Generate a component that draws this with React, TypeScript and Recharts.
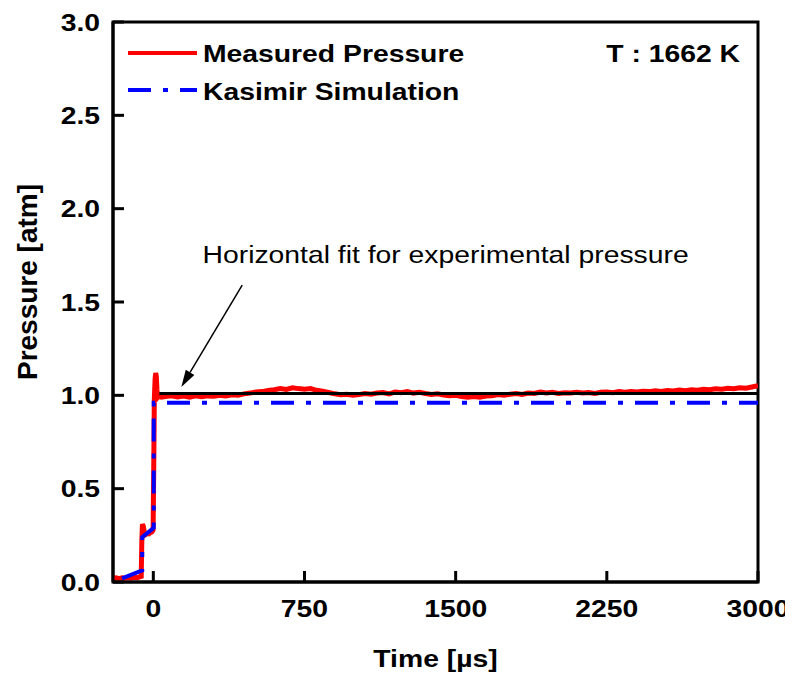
import React from 'react'
import { LineChart, Line, XAxis, YAxis, Legend, ReferenceArea, ReferenceLine, ReferenceDot } from 'recharts'

const FONT = "'Liberation Sans', Arial, sans-serif"
const SX = 1.18

// measured pressure trace (time in µs, pressure in atm)
const measuredTime = [
  -200, -185, -170, -155, -140, -125, -110, -95, -80, -68, -60, -57, -54, -50, -45, -38, -30, -22, -14, -6, -1,
  2, 5, 9, 12, 15, 18, 22, 26, 40,
  60, 90, 120, 150, 180, 210, 240, 270, 300, 330, 360, 390, 420, 450, 480, 510, 540, 570, 600,
  630, 660, 690, 720, 750, 780, 810, 840, 870, 900, 930, 960, 990, 1020, 1050, 1080, 1110, 1140,
  1170, 1200, 1230, 1260, 1290, 1320, 1350, 1380, 1410, 1440, 1470, 1500, 1530, 1560, 1590, 1620,
  1650, 1680, 1710, 1740, 1770, 1800, 1830, 1860, 1890, 1920, 1950, 1980, 2010, 2040, 2070, 2100,
  2130, 2160, 2190, 2220, 2250, 2280, 2310, 2340, 2370, 2400, 2430, 2460, 2490, 2520, 2550, 2580,
  2610, 2640, 2670, 2700, 2730, 2760, 2790, 2820, 2850, 2880, 2910, 2940, 2970, 3000,
]
const measuredPressure = [
  0.02, 0.022, 0.018, 0.023, 0.02, 0.024, 0.021, 0.025, 0.023, 0.027, 0.03, 0.22, 0.31, 0.3, 0.27, 0.255, 0.26, 0.258, 0.265, 0.27, 0.28,
  0.6, 0.98, 1.09, 1.12, 1.1, 1.03, 0.99, 0.995, 0.99,
  0.993, 0.997, 0.991, 0.996, 0.99, 0.998, 0.993, 0.997, 0.995, 1.0, 0.996, 1.003, 1.0, 1.008, 1.012, 1.018, 1.02, 1.026, 1.03,
  1.036, 1.032, 1.04, 1.036, 1.033, 1.036, 1.027, 1.022, 1.015, 1.008, 1.003, 1.006, 1.0, 1.004, 1.01, 1.006, 1.012, 1.015,
  1.008, 1.018, 1.014, 1.02, 1.012, 1.016, 1.01, 1.005, 1.008, 1.002, 0.998, 1.0, 0.994, 0.99, 0.994, 0.99,
  0.996, 0.998, 1.004, 1.0, 1.006, 1.01, 1.005, 1.012, 1.01, 1.018, 1.013, 1.016, 1.01, 1.014, 1.012, 1.017,
  1.013, 1.015, 1.01, 1.016, 1.018, 1.014, 1.02, 1.017, 1.021, 1.018, 1.022, 1.02, 1.025, 1.021, 1.026, 1.023,
  1.028, 1.025, 1.03, 1.027, 1.032, 1.03, 1.035, 1.033, 1.038, 1.035, 1.04, 1.038, 1.045, 1.052,
]

// Kasimir simulation
const simTime = [-155, -55, -55, 2, 2, 3000]
const simPressure = [0.02, 0.062, 0.24, 0.29, 0.96, 0.96]

// horizontal fit of the experimental plateau
const fitTime = [30, 3000]
const fitPressure = [1.01, 1.01]

const xTicks = [0, 750, 1500, 2250, 3000]
const yTicks = [0, 0.5, 1.0, 1.5, 2.0, 2.5, 3.0]

const noteText = 'Horizontal fit for experimental pressure'
const notePos = { x: 1450, y: 1.71 }
const arrowFrom = { x: 441, y: 1.59 }
const arrowTo = { x: 139, y: 1.045 }

const measured = measuredTime.map((t, i) => ({ t, p: measuredPressure[i] }))
const sim = simTime.map((t, i) => ({ t, p: simPressure[i] }))
const fit = fitTime.map((t, i) => ({ t, p: fitPressure[i] }))

const XTick = ({ x, y, payload }: any) => (
  <text transform={`translate(${x},${y}) scale(${SX},1)`} textAnchor="middle"
    style={{ fontFamily: FONT, fontWeight: 700, fontSize: 24, fill: '#000' }}>
    {payload.value}
  </text>
)

const YTick = ({ x, y, payload }: any) => (
  <text transform={`translate(${x},${y + 8.6}) scale(${SX},1)`} textAnchor="end"
    style={{ fontFamily: FONT, fontWeight: 700, fontSize: 24, fill: '#000' }}>
    {Number(payload.value).toFixed(1)}
  </text>
)

const XTitle = ({ viewBox }: any) => (
  <text transform={`translate(${viewBox.x + viewBox.width / 2},${viewBox.y + 85}) scale(${SX},1)`}
    textAnchor="middle" style={{ fontFamily: FONT, fontWeight: 700, fontSize: 24, fill: '#000' }}>
    Time [µs]
  </text>
)

const YTitle = ({ viewBox }: any) => (
  <text transform={`translate(29,${viewBox.y + viewBox.height / 2 - 20}) rotate(-90)`}
    textAnchor="middle" style={{ fontFamily: FONT, fontWeight: 700, fontSize: 28, fill: '#000' }}>
    Pressure [atm]
  </text>
)

const Arrow = (props: any) => {
  const { x1, y1, x2, y2 } = props
  const a = Math.atan2(y2 - y1, x2 - x1)
  const len = 17
  const w = 5
  const bx = x2 - len * Math.cos(a)
  const by = y2 - len * Math.sin(a)
  const pts = [
    `${x2},${y2}`,
    `${bx + w * Math.sin(a)},${by - w * Math.cos(a)}`,
    `${bx - w * Math.sin(a)},${by + w * Math.cos(a)}`,
  ].join(' ')
  return (
    <g>
      <line x1={x1} y1={y1} x2={bx} y2={by} stroke="#000" strokeWidth={1.5} />
      <polygon points={pts} fill="#000" />
    </g>
  )
}

const Note = ({ cx, cy }: any) => (
  <text transform={`translate(${cx},${cy}) scale(${SX},1)`} textAnchor="middle"
    style={{ fontFamily: FONT, fontSize: 24, fill: '#000' }}>
    {noteText}
  </text>
)

const LegendBox = () => {
  const txt = { fontFamily: FONT, fontWeight: 700, fontSize: 24, fill: '#000' }
  return (
    <svg width={760} height={110} style={{ display: 'block' }}>
      <line x1={120} y1={45} x2={189} y2={45} stroke="#ff0000" strokeWidth={4} />
      <text transform={`translate(195,54) scale(${SX},1)`} style={txt}>Measured Pressure</text>
      <line x1={120} y1={82} x2={189} y2={82} stroke="#0000ff" strokeWidth={4} strokeDasharray="23 12 5 12" />
      <text transform={`translate(195,92) scale(${SX},1)`} style={txt}>Kasimir Simulation</text>
      <text transform={`translate(732,54) scale(${SX},1)`} textAnchor="end" style={txt}>T : 1662 K</text>
    </svg>
  )
}

export default function App() {
  return (
    <div style={{ width: 785, height: 669, position: 'relative' }}>
      <LineChart width={785} height={669} margin={{ top: 14, right: 35, left: 0, bottom: 0 }}
        style={{ overflow: 'visible' }}>
        <XAxis type="number" dataKey="t" domain={[-200, 3000]} ticks={xTicks} allowDataOverflow
          height={95} tickSize={-11} tickMargin={46} tick={XTick}
          axisLine={{ stroke: '#000', strokeWidth: 3 }} tickLine={{ stroke: '#000', strokeWidth: 3 }}
          label={XTitle} />
        <YAxis type="number" dataKey="p" domain={[0, 3]} ticks={yTicks} allowDataOverflow
          width={105} tickSize={-11} tickMargin={24} tick={YTick}
          axisLine={{ stroke: '#000', strokeWidth: 3 }} tickLine={{ stroke: '#000', strokeWidth: 3 }}
          label={YTitle} />
        <ReferenceArea x1={-200} x2={3000} y1={0} y2={3} fill="none" stroke="#000" strokeWidth={3}
          ifOverflow="visible" />
        <Legend layout="vertical" align="center" verticalAlign="middle" content={LegendBox}
          wrapperStyle={{ position: 'absolute', left: 0, top: 0, width: 760 }} />
        <Line data={measured} dataKey="p" stroke="#ff0000" strokeWidth={5} dot={false}
          isAnimationActive={false} type="linear" name="Measured Pressure" />
        <Line data={sim} dataKey="p" stroke="#0000ff" strokeWidth={4} strokeDasharray="23 12 5 12" dot={false}
          isAnimationActive={false} type="linear" name="Kasimir Simulation" />
        <Line data={fit} dataKey="p" stroke="#000" strokeWidth={3} dot={false}
          isAnimationActive={false} type="linear" legendType="none" />
        <ReferenceLine segment={[arrowFrom, arrowTo]} shape={Arrow} ifOverflow="visible" />
        <ReferenceDot x={notePos.x} y={notePos.y} r={0} shape={Note} ifOverflow="visible" />
      </LineChart>
    </div>
  )
}
